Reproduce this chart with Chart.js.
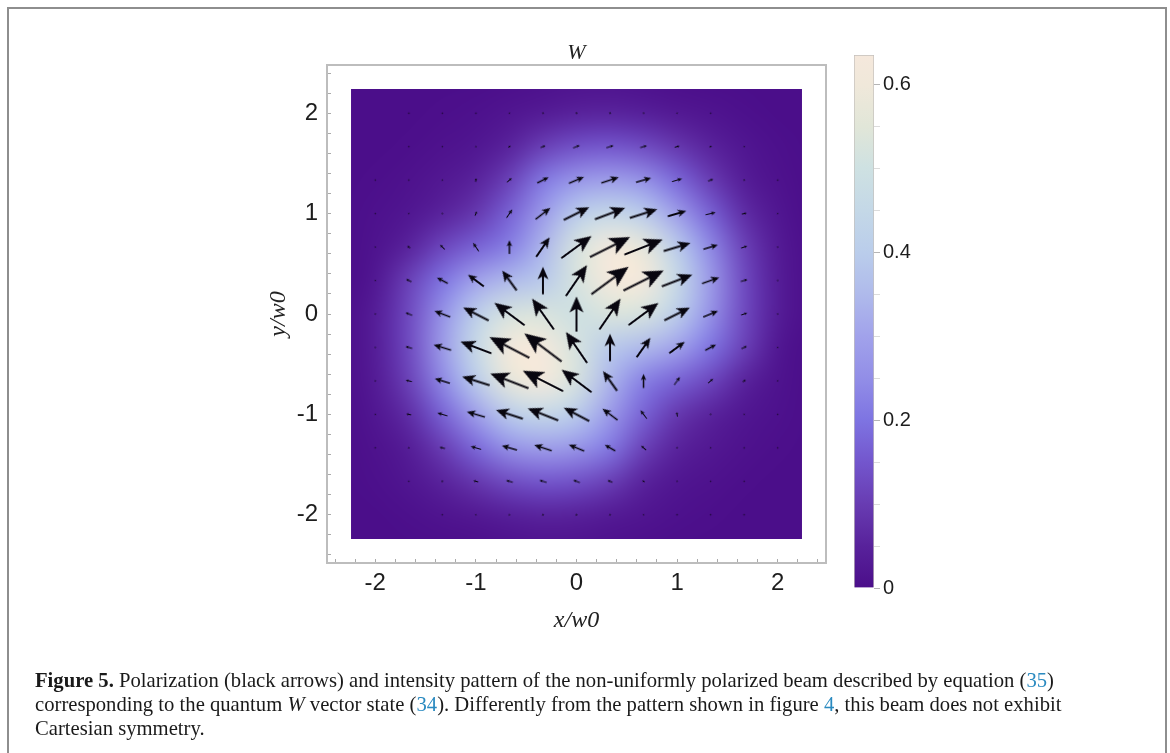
<!DOCTYPE html>
<html>
<head>
<meta charset="utf-8">
<script src="https://cdn.jsdelivr.net/npm/chart.js@4"></script>
<style>
html,body{margin:0;padding:0;background:#fff;width:1170px;height:753px;overflow:hidden}
#page{position:absolute;left:7px;top:7px;width:1156px;height:760px;border:2px solid #8e8e8e;border-bottom:none}
#main{position:absolute;left:0;top:0}
#bar{position:absolute;left:850px;top:40px}
#cap{position:absolute;left:35px;top:668px;width:1100px;font:20.66px/24.2px "Liberation Serif",serif;color:#1a1a1a;white-space:nowrap}
#cap b{font-weight:bold}
#cap a{color:#2a8ac0;text-decoration:none}
</style>
</head>
<body>
<div id="page"></div>
<canvas id="main" width="1170" height="753"></canvas>
<canvas id="bar" width="80" height="570"></canvas>
<div id="cap"><b>Figure 5.</b> Polarization (black arrows) and intensity pattern of the non-uniformly polarized beam described by equation (<a>35</a>)<br>corresponding to the quantum <i>W</i> vector state (<a>34</a>). Differently from the pattern shown in figure <a>4</a>, this beam does not exhibit<br>Cartesian symmetry.</div>
<script>
const titleText = 'W';
const xTitle = 'x/w0';
const yTitle = 'y/w0';
const axisLimit = 2.48;
const fieldLimit = 2.24;

// arrow sites, in axis units (thirds)
const gridX = [-6,-5,-4,-3,-2,-1,0,1,2,3,4,5,6].map(k => k / 3);
const gridY = [6,5,4,3,2,1,0,-1,-2,-3,-4,-5,-6].map(j => j / 3);

// arrow components, in 1/300 of an axis unit (rows: top to bottom)
const arrowU = [
 [0,1,1,1,2,4,5,5,4,2,1,0,0],
 [0,0,0,1,6,14,20,22,20,14,6,2,0],
 [0,0,1,2,14,34,45,52,45,30,15,4,1],
 [0,1,3,5,17,44,76,90,82,55,30,14,2],
 [-1,-8,-14,-17,0,40,90,120,114,80,43,18,3],
 [-2,-16,-32,-47,-43,0,63,111,120,91,51,20,3],
 [-3,-20,-47,-76,-90,-65,0,63,89,76,44,18,3],
 [-3,-20,-52,-92,-119,-111,-63,0,41,46,32,16,2],
 [-3,-18,-45,-82,-114,-120,-89,-42,0,17,15,8,1],
 [-2,-14,-30,-54,-80,-91,-76,-45,-19,-2,-3,-2,0],
 [-1,-4,-16,-31,-45,-52,-46,-31,-15,-3,-1,0,0],
 [0,-1,-5,-14,-20,-22,-20,-14,-6,-1,0,0,0],
 [0,0,-1,-2,-4,-5,-5,-4,-2,-1,-1,-1,0]
];
const arrowV = [
 [0,0,0,0,1,2,2,2,1,1,0,0,0],
 [0,1,1,3,4,6,8,7,6,4,2,1,0],
 [1,1,2,10,12,17,19,17,13,9,6,1,0],
 [1,2,3,12,25,34,38,34,26,16,7,3,1],
 [1,6,14,25,41,58,66,60,45,24,13,6,1],
 [1,8,17,35,59,82,92,82,60,35,18,6,1],
 [1,8,18,39,67,92,105,92,66,38,18,6,1],
 [1,6,16,35,62,84,92,82,58,34,17,8,1],
 [1,4,14,26,44,61,67,59,42,24,13,6,1],
 [1,3,9,16,26,36,40,34,25,13,3,2,1],
 [0,1,4,9,13,17,19,18,13,3,2,1,1],
 [0,0,1,4,6,7,8,6,4,3,1,1,0],
 [0,0,0,1,1,2,2,2,1,0,0,0,0]
];

// intensity at sites k/3, j/3 (k,j = -7..7), rows top to bottom
const intensity = [
 [0,0,0,0,0,.003,.008,.012,.012,.008,.003,0,0,0,0],
 [0,0,0,.003,.008,.018,.03,.045,.05,.04,.025,.015,.005,0,0],
 [0,0,.003,.01,.02,.05,.105,.14,.15,.13,.09,.05,.02,.005,0],
 [0,.003,.01,.025,.05,.11,.21,.27,.29,.26,.18,.10,.035,.01,0],
 [0,.008,.02,.05,.09,.17,.28,.40,.45,.40,.29,.17,.07,.02,0],
 [0,.012,.05,.12,.17,.22,.34,.52,.63,.57,.40,.24,.11,.03,.003],
 [0,.02,.11,.20,.30,.35,.39,.52,.63,.625,.46,.28,.125,.035,.003],
 [.003,.035,.125,.26,.41,.52,.53,.49,.53,.52,.41,.26,.125,.035,.003],
 [.003,.035,.125,.28,.46,.625,.63,.52,.39,.35,.30,.20,.11,.02,0],
 [.003,.03,.11,.24,.40,.57,.63,.52,.34,.22,.17,.12,.05,.012,0],
 [0,.02,.07,.17,.29,.40,.45,.40,.28,.17,.09,.05,.02,.008,0],
 [0,.01,.035,.10,.18,.26,.29,.27,.21,.11,.05,.025,.01,.003,0],
 [0,.005,.02,.05,.09,.13,.15,.14,.105,.05,.02,.01,.003,0,0],
 [0,0,.005,.015,.025,.04,.05,.045,.03,.018,.008,.003,0,0,0],
 [0,0,0,0,.003,.008,.012,.012,.008,.003,0,0,0,0,0]
];

// colour scale
const colourValues = [0,.05,.1,.15,.2,.25,.3,.35,.4,.45,.5,.55,.6,.635];
const colourRGB = [[75,14,138],[88,34,155],[104,60,178],[115,86,205],[126,116,226],[146,142,231],[161,162,235],
 [175,186,235],[186,205,235],[196,216,231],[206,225,226],[225,230,216],[240,232,218],[245,232,220]];
const barTop = 0.635;

function colourAt(v) {
  for (let i = 1; i < colourValues.length; i++) {
    if (v <= colourValues[i]) {
      const t = (v - colourValues[i-1]) / (colourValues[i] - colourValues[i-1]);
      return colourRGB[i].map((c, n) => colourRGB[i-1][n] + (c - colourRGB[i-1][n]) * t);
    }
  }
  return colourRGB[colourRGB.length - 1];
}

const fieldImage = document.createElement('canvas');
fieldImage.width = intensity[0].length;
fieldImage.height = intensity.length;
(function () {
  const c = fieldImage.getContext('2d');
  const im = c.createImageData(fieldImage.width, fieldImage.height);
  intensity.forEach((row, r) => row.forEach((v, q) => {
    const rgb = colourAt(v), o = (r * fieldImage.width + q) * 4;
    im.data[o] = rgb[0]; im.data[o+1] = rgb[1]; im.data[o+2] = rgb[2]; im.data[o+3] = 255;
  }));
  c.putImageData(im, 0, 0);
})();

const heatPlugin = {
  id: 'heat',
  beforeDatasetsDraw(chart) {
    const { x, y } = chart.scales, c = chart.ctx;
    const half = 7.5 / 3;
    c.save();
    c.beginPath();
    c.rect(x.getPixelForValue(-fieldLimit), y.getPixelForValue(fieldLimit),
      x.getPixelForValue(fieldLimit) - x.getPixelForValue(-fieldLimit),
      y.getPixelForValue(-fieldLimit) - y.getPixelForValue(fieldLimit));
    c.clip();
    c.imageSmoothingEnabled = true;
    c.imageSmoothingQuality = 'high';
    c.filter = 'blur(7px)';
    const x0 = x.getPixelForValue(-half), y0 = y.getPixelForValue(half);
    c.fillStyle = 'rgb(75,14,138)';
    c.fillRect(x0 - 40, y0 - 40, x.getPixelForValue(half) - x0 + 80, y.getPixelForValue(-half) - y0 + 80);
    c.drawImage(fieldImage, x0, y0, x.getPixelForValue(half) - x0, y.getPixelForValue(-half) - y0);
    c.restore();
  }
};
const framePlugin = {
  id: 'frame',
  afterDraw(chart) {
    const a = chart.chartArea, c = chart.ctx;
    c.save();
    c.strokeStyle = '#bdbdbd';
    c.lineWidth = 2;
    c.beginPath();
    c.moveTo(a.left, a.top); c.lineTo(a.right, a.top); c.lineTo(a.right, a.bottom);
    c.stroke();
    c.restore();
  }
};

function arrowCanvas(len) {
  const size = Math.ceil(len) + 6;
  const cv = document.createElement('canvas');
  cv.width = cv.height = size;
  const c = cv.getContext('2d');
  c.translate(size / 2, size / 2);
  c.fillStyle = '#08060f';
  c.filter = 'blur(0.35px)';
  if (len === 0) return cv;
  if (len < 1.2) {
    c.globalAlpha = .7;
    c.beginPath(); c.arc(0, 0, .8, 0, 7); c.fill();
    return cv;
  }
  const t = len / 2, hl = len * .46, hw = Math.max(len * .2, 1.4), sw = Math.min(.9, Math.max(.6, len * .03 + .3));
  c.beginPath();
  c.moveTo(-t, -sw); c.lineTo(t - hl * .78, -sw); c.lineTo(t - hl, -hw); c.lineTo(t, 0);
  c.lineTo(t - hl, hw); c.lineTo(t - hl * .78, sw); c.lineTo(-t, sw);
  c.closePath(); c.fill();
  return cv;
}

const arrowPoints = [];
gridY.forEach((yv, r) => gridX.forEach((xv, q) => {
  arrowPoints.push({ x: xv, y: yv, u: arrowU[r][q], v: arrowV[r][q] });
}));

const cache = {};
function pxPerUnit(chart) {
  return chart.scales.x.getPixelForValue(1) - chart.scales.x.getPixelForValue(0);
}
const sans = '"Liberation Sans", Arial, sans-serif';
const serif = '"Liberation Serif", serif';

const sharedTicks = {
  stepSize: 0.2, autoSkip: false, maxRotation: 0, includeBounds: false,
  color: '#1d1d1d', font: { family: sans, size: 24 },
  callback: v => Math.abs(v - Math.round(v)) < 1e-6 ? String(Math.round(v)) : ''
};
const sharedGrid = { drawOnChartArea: false, tickLength: -4, tickColor: '#aaa', tickWidth: 1 };
const sharedBorder = { color: '#bdbdbd', width: 2 };

new Chart(document.getElementById('main'), {
  type: 'scatter',
  data: { datasets: [{
    label: 'Polarization',
    data: arrowPoints,
    pointRadius: 2,
    pointHoverRadius: 2,
    pointRotation: ctx => Math.atan2(-ctx.raw.v, ctx.raw.u) * 180 / Math.PI,
    pointStyle: ctx => {
      const len = Math.hypot(ctx.raw.u, ctx.raw.v) / 300 * pxPerUnit(ctx.chart);
      const key = (Number.isFinite(len) ? len : 0).toFixed(1);
      return cache[key] || (cache[key] = arrowCanvas(Number.isFinite(len) ? len : 0));
    }
  }]},
  options: {
    responsive: false, animation: false, events: [],
    layout: { padding: { left: 264, right: 344, top: 0, bottom: 118 } },
    plugins: {
      legend: { display: false }, tooltip: { enabled: false },
      title: { display: true, text: titleText, fullSize: false, color: '#222',
        font: { family: serif, size: 22, style: 'italic', weight: 'normal' },
        padding: { top: 40, bottom: -1.4 } }
    },
    scales: {
      x: { type: 'linear', min: -axisLimit, max: axisLimit,
        ticks: { ...sharedTicks, padding: 10 }, grid: sharedGrid, border: sharedBorder,
        title: { display: true, text: xTitle, color: '#222', padding: 0,
          font: { family: serif, size: 24, style: 'italic', weight: 'normal' } },
        afterFit: s => { s.height = 72; } },
      y: { type: 'linear', min: -axisLimit, max: axisLimit,
        ticks: { ...sharedTicks, padding: 13 }, grid: sharedGrid, border: sharedBorder,
        title: { display: true, text: yTitle, color: '#222', padding: 0,
          font: { family: serif, size: 24, style: 'italic', weight: 'normal' } },
        afterFit: s => { s.width = 63; } }
    }
  },
  plugins: [heatPlugin, framePlugin]
});

new Chart(document.getElementById('bar'), {
  type: 'bar',
  data: { labels: ['W'], datasets: [{
    data: [barTop],
    barPercentage: 1, categoryPercentage: 1,
    borderWidth: 1, borderColor: '#c4c0bc',
    backgroundColor: ctx => {
      const y = ctx.chart.scales.y;
      if (!y) return '#888';
      const p0 = y.getPixelForValue(0), p1 = y.getPixelForValue(barTop);
      if (!Number.isFinite(p0) || !Number.isFinite(p1)) return '#888';
      const g = ctx.chart.ctx.createLinearGradient(0, p0, 0, p1);
      colourValues.forEach((v, i) => g.addColorStop(v / barTop, 'rgb(' + colourRGB[i].join(',') + ')'));
      return g;
    }
  }]},
  options: {
    responsive: false, animation: false, events: [],
    layout: { padding: { left: 4, right: 0, top: 13, bottom: 22 } },
    plugins: { legend: { display: false }, tooltip: { enabled: false } },
    scales: {
      x: { display: false },
      y: { position: 'right', min: 0, max: barTop,
        border: { display: false },
        grid: { drawOnChartArea: false, tickLength: 6, tickWidth: 1,
          tickColor: c => Math.abs(c.tick.value * 5 - Math.round(c.tick.value * 5)) < 1e-6 ? '#b5b5b5' : '#dcdcdc' },
        ticks: { stepSize: 0.05, autoSkip: false, includeBounds: false, padding: 3, color: '#1d1d1d',
          font: { family: sans, size: 20 },
          callback: v => Math.abs(v * 5 - Math.round(v * 5)) < 1e-6 ? String(Math.round(v * 5) / 5) : '' },
        afterFit: s => { s.width = 56; } }
    }
  }
});
</script>
</body>
</html>
